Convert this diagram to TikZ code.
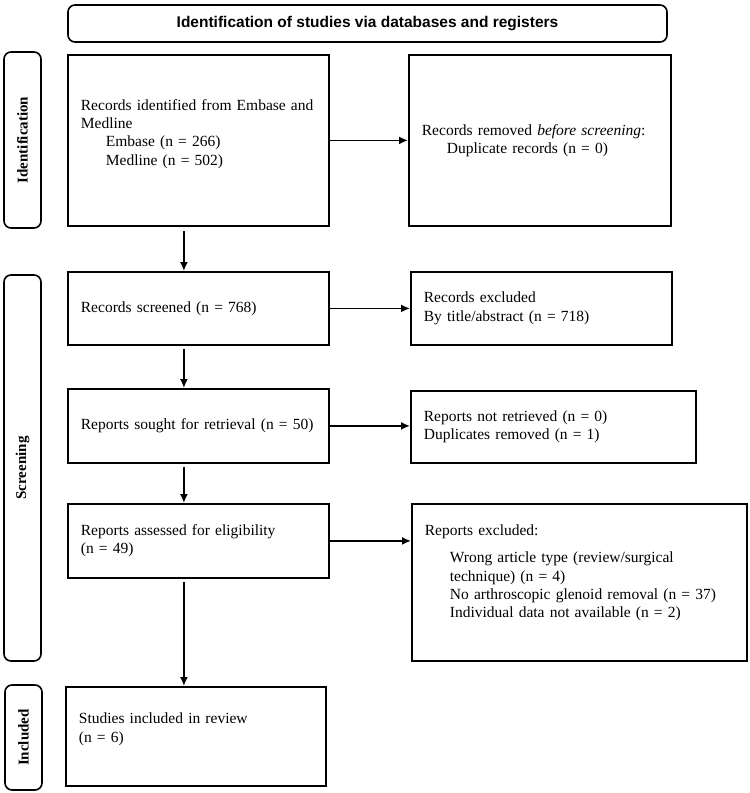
\documentclass[tikz,border=0pt]{standalone}
\usepackage{fontspec}
\setmainfont{Liberation Serif}
\newfontfamily\headfont{Liberation Sans}
\usetikzlibrary{arrows.meta}
\tikzset{
  box/.style={draw, line width=1.8pt, rectangle, anchor=north west, align=left,
    inner xsep=13pt, inner ysep=0pt, font=\fontsize{15.5}{18.3}\selectfont},
  phase/.style={draw, line width=1.6pt, rounded corners=7pt, inner sep=0pt,
    font=\bfseries\fontsize{15}{18}\selectfont},
  flow/.style={-{Latex[length=9pt,width=8pt]}, line width=1.6pt},
}

\begin{document}
\begin{tikzpicture}[x=1pt,y=-1pt]
\useasboundingbox (0,0) rectangle (750,793);
\node[phase, minimum width=599pt, minimum height=37pt, font=\headfont\bfseries\fontsize{15.5}{18}\selectfont] (head) at (367.5,23.5) {Identification of studies via databases and registers};
\node[phase, rotate=90, minimum width=176pt, minimum height=37pt] (identlbl) at (22.5,140) {Identification};
\node[phase, rotate=90, minimum width=386pt, minimum height=37pt] (screenlbl) at (22.5,468) {Screening};
\node[phase, rotate=90, minimum width=105pt, minimum height=37pt] (incllbl) at (23.5,737.5) {Included};

\node[box, text width=235pt, minimum height=171pt] (recid) at (67,54) {Records identified from Embase and Medline\\ \hspace*{25pt}Embase (n = 266)\\ \hspace*{25pt}Medline (n = 502)\\[-2pt]\mbox{}};
\node[box, text width=236pt, minimum height=171pt] (removed) at (408,54) {Records removed \textit{before screening}:\\ \hspace*{25pt}Duplicate records (n = 0)};
\node[box, text width=235pt, minimum height=73pt] (screened) at (67,271) {Records screened (n = 768)};
\node[box, text width=235pt, minimum height=73pt] (excluded) at (410,271) {Records excluded\\ By title/abstract (n = 718)};
\node[box, text width=235pt, minimum height=74pt] (sought) at (67,388) {Reports sought for retrieval (n = 50)};
\node[box, text width=259pt, minimum height=72pt] (notret) at (410,390) {Reports not retrieved (n = 0)\\ Duplicates removed (n = 1)};
\node[box, text width=235pt, minimum height=74pt] (assessed) at (67,503) {Reports assessed for eligibility\\ (n = 49)};
\node[box, text width=309pt, minimum height=157pt] (repexcl) at (411,503) {Reports excluded:\\[9pt] \hspace*{25pt}Wrong article type (review/surgical\\ \hspace*{25pt}technique) (n = 4)\\ \hspace*{25pt}No arthroscopic glenoid removal (n = 37)\\ \hspace*{25pt}Individual data not available (n = 2)\\[4pt]\mbox{}};
\node[box, text width=234pt, minimum height=99pt] (included) at (65,686) {Studies included in review\\ (n = 6)\\[-1pt]\mbox{}};

\draw[flow] (recid.east) -- (removed.west);
\draw[flow] (screened.east) -- (excluded.west);
\draw[flow] (sought.east) -- (sought.east -| notret.west);
\draw[flow] (assessed.east) -- (assessed.east -| repexcl.west);
\draw[flow, shorten <=4pt] ([xshift=-14.5pt]recid.south) -- ([xshift=-14.5pt]screened.north);
\draw[flow, shorten <=3pt] ([xshift=-14.5pt]screened.south) -- ([xshift=-14.5pt]sought.north);
\draw[flow, shorten <=3pt] ([xshift=-14.5pt]sought.south) -- ([xshift=-14.5pt]assessed.north);
\draw[flow, shorten <=3pt] ([xshift=-14.5pt]assessed.south) -- ([xshift=-12pt]included.north);
\end{tikzpicture}
\end{document}
